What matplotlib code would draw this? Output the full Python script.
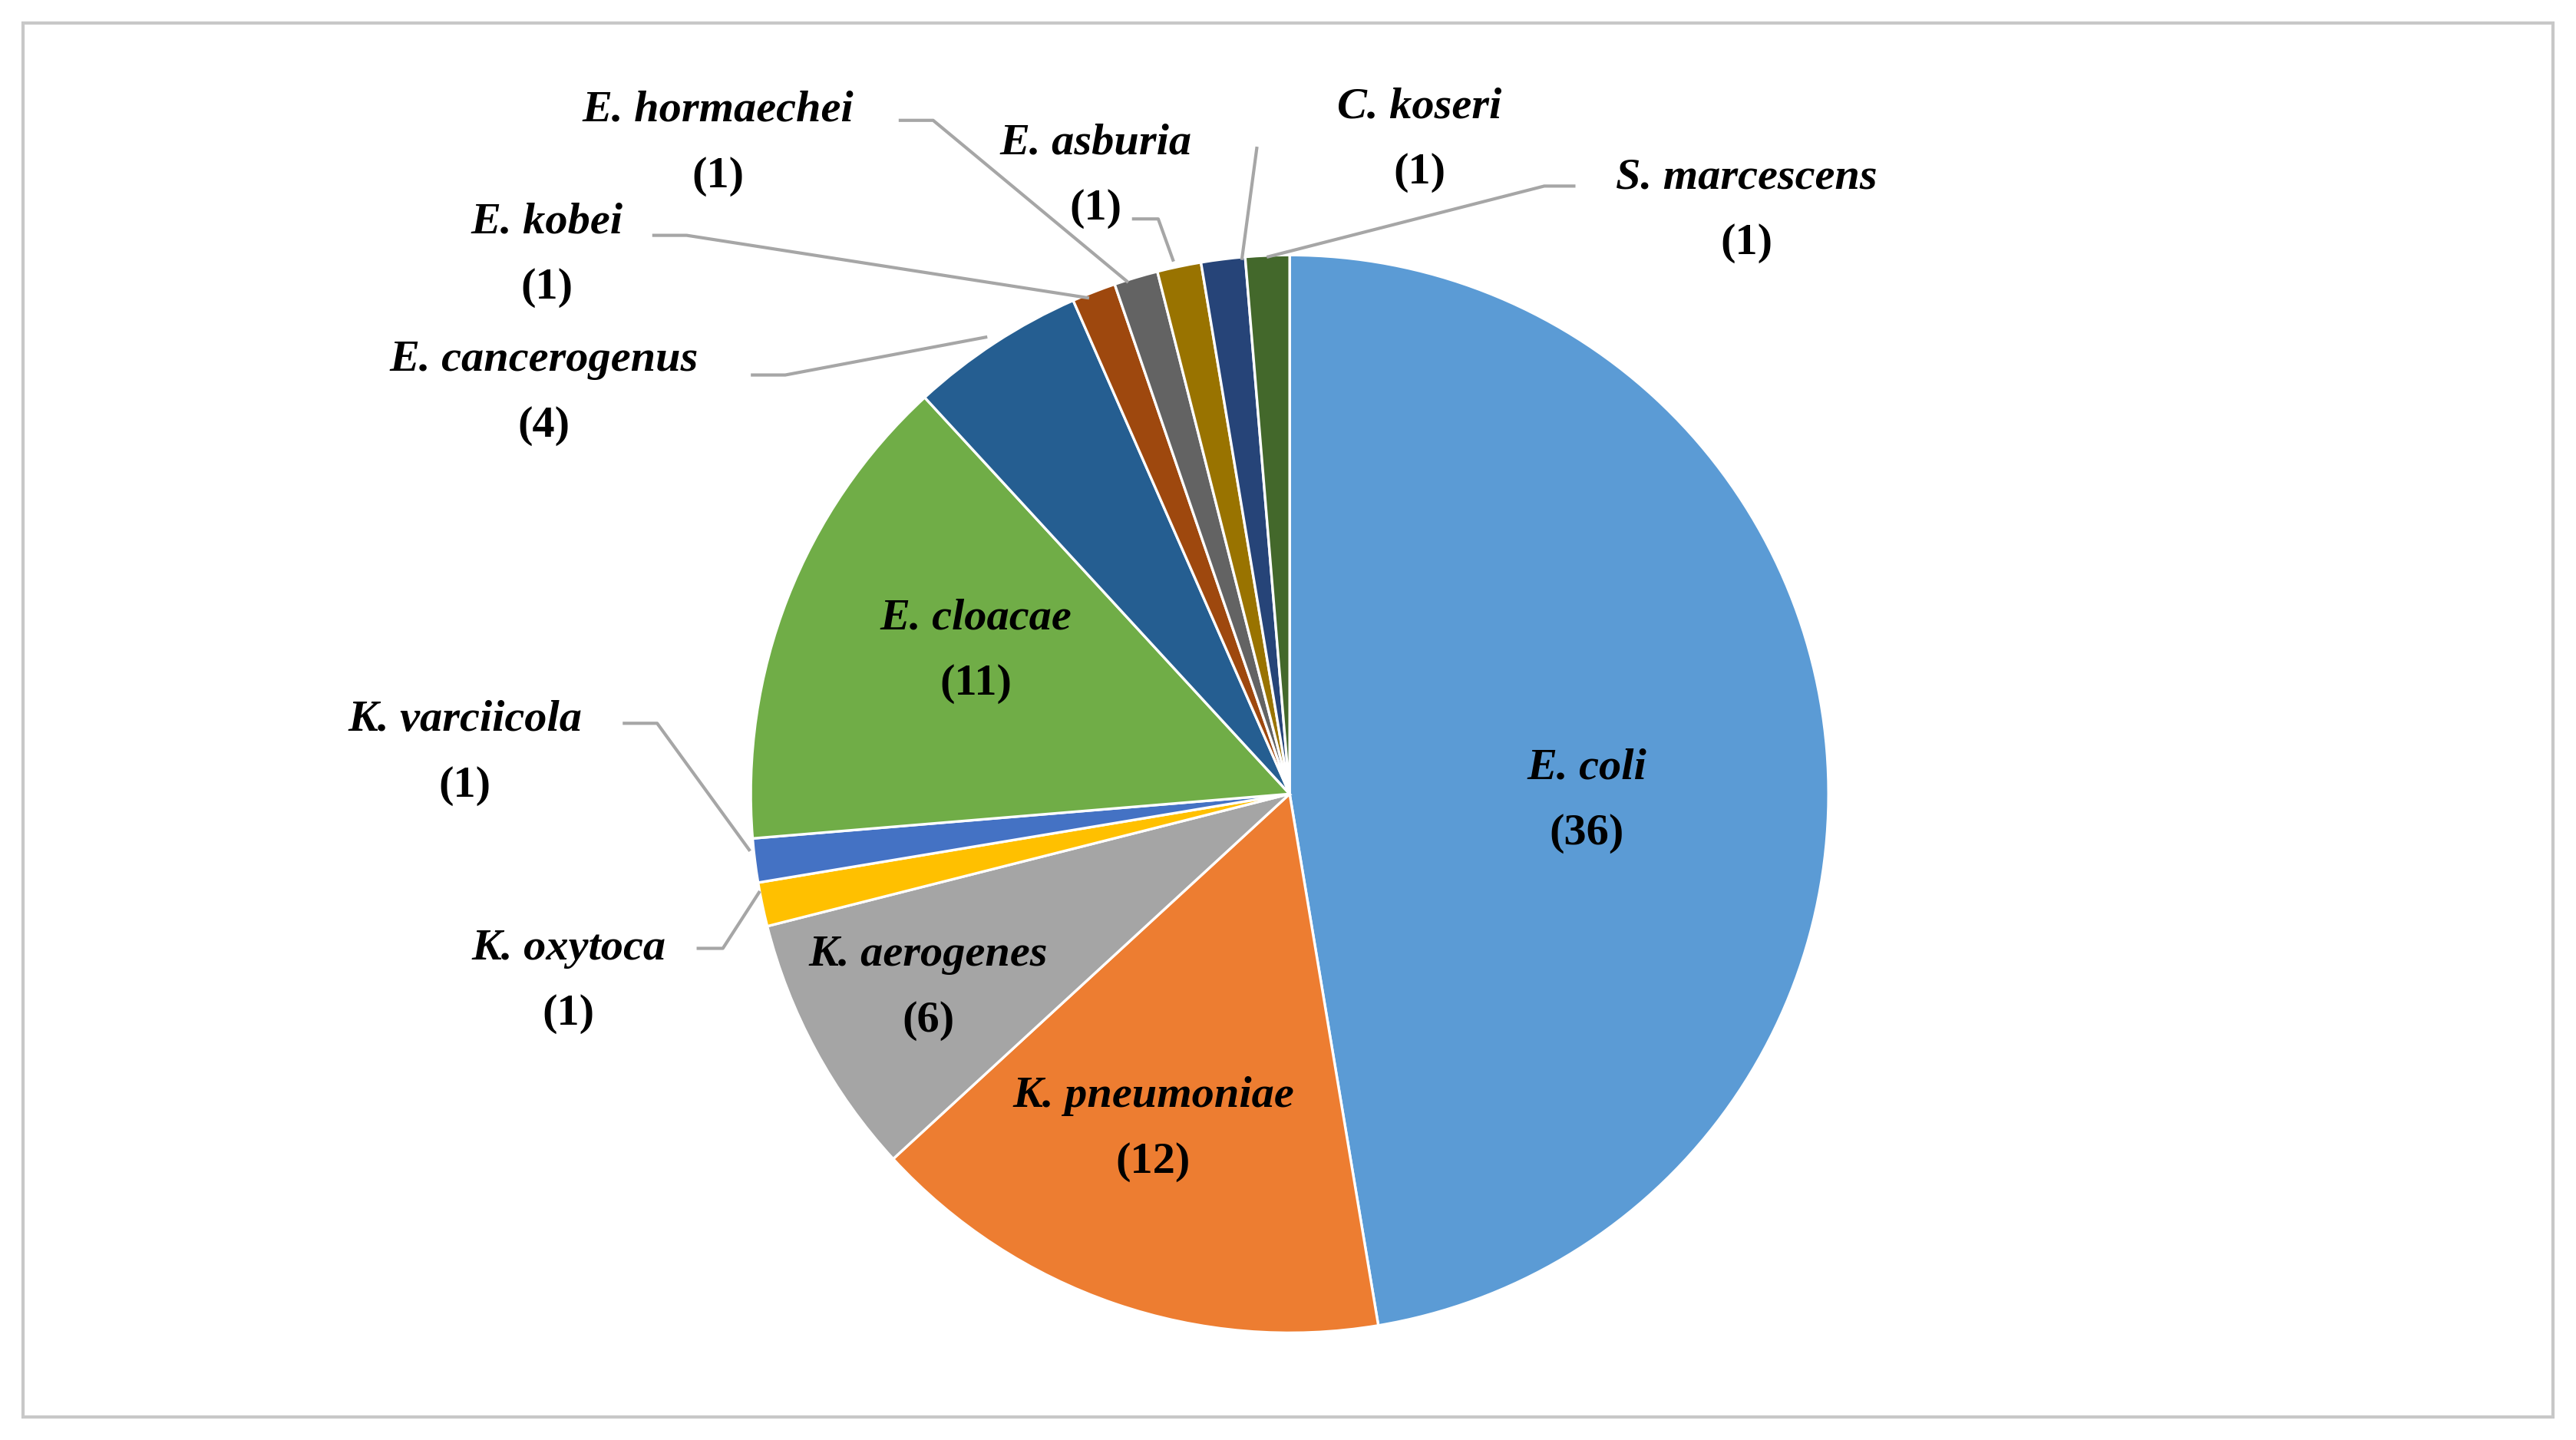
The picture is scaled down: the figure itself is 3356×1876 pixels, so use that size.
import matplotlib
matplotlib.use("Agg")
import matplotlib.pyplot as plt
from matplotlib.patches import Rectangle

names = ["E. coli", "K. pneumoniae", "K. aerogenes", "K. oxytoca", "K. varciicola",
         "E. cloacae", "E. cancerogenus", "E. kobei", "E. hormaechei", "E. asburia",
         "C. koseri", "S. marcescens"]
counts = [36, 12, 6, 1, 1, 11, 4, 1, 1, 1, 1, 1]
colors = ["#5B9BD5", "#ED7D31", "#A5A5A5", "#FFC000", "#4472C4", "#70AD47",
          "#255E91", "#9E480E", "#636363", "#997300", "#264478", "#43682B"]

label_pos = {
    "E. coli": (966, 467), "K. pneumoniae": (702, 667), "K. aerogenes": (565, 581),
    "E. cloacae": (594, 376), "K. oxytoca": (346, 577), "K. varciicola": (283, 438),
    "E. cancerogenus": (331, 219), "E. kobei": (333, 135), "E. hormaechei": (437, 67),
    "E. asburia": (667, 87), "C. koseri": (864, 65), "S. marcescens": (1063, 108),
}
leaders = {
    "K. oxytoca": [(425, 577), (440, 577), (462, 543)],
    "K. varciicola": [(380, 440), (400, 440), (456, 517)],
    "E. cancerogenus": [(458, 228), (478, 228), (600, 205)],
    "E. kobei": [(398, 143), (418, 143), (662, 181)],
    "E. hormaechei": [(548, 73), (568, 73), (686, 171)],
    "E. asburia": [(690, 133), (705, 133), (714, 158)],
    "C. koseri": [(765, 90), (756, 157)],
    "S. marcescens": [(958, 113), (940, 113), (772, 156)],
}

W, H = 1568, 876
cx, cy, R = 785, 483, 328
def tr(px, py):
    return (px - cx) / R, (cy - py) / R

fig = plt.figure(figsize=(16.78, 9.38), dpi=200)
ax = fig.add_axes([0, 0, 1, 1])

ax.pie(counts, colors=colors, startangle=90, counterclock=False, radius=1,
       wedgeprops=dict(edgecolor="white", linewidth=1.2))
ax.set_xlim(-cx / R, (W - cx) / R)
ax.set_ylim(-(H - cy) / R, cy / R)
ax.set_aspect("equal")
ax.axis("off")

fig.patches.append(Rectangle((14 / W, 1 - 862 / H), 1540 / W, 848 / H, transform=fig.transFigure,
                             fill=False, edgecolor="#C8C8C8", linewidth=1.5))

fs = 21
for n, c in zip(names, counts):
    px, py = label_pos[n]
    x, y = tr(px, py)
    ax.text(x, y, n, ha="center", va="center", fontsize=fs, family="Liberation Serif",
            style="italic", weight="bold", color="black")
    x2, y2 = tr(px, py + 40)
    ax.text(x2, y2, f"({c})", ha="center", va="center", fontsize=fs,
            family="Liberation Serif", weight="bold", color="black")

for n, pts in leaders.items():
    xs, ys = zip(*[tr(*p) for p in pts])
    ax.plot(xs, ys, color="#A6A6A6", linewidth=1.5)

fig.savefig("out.png", dpi=200)
